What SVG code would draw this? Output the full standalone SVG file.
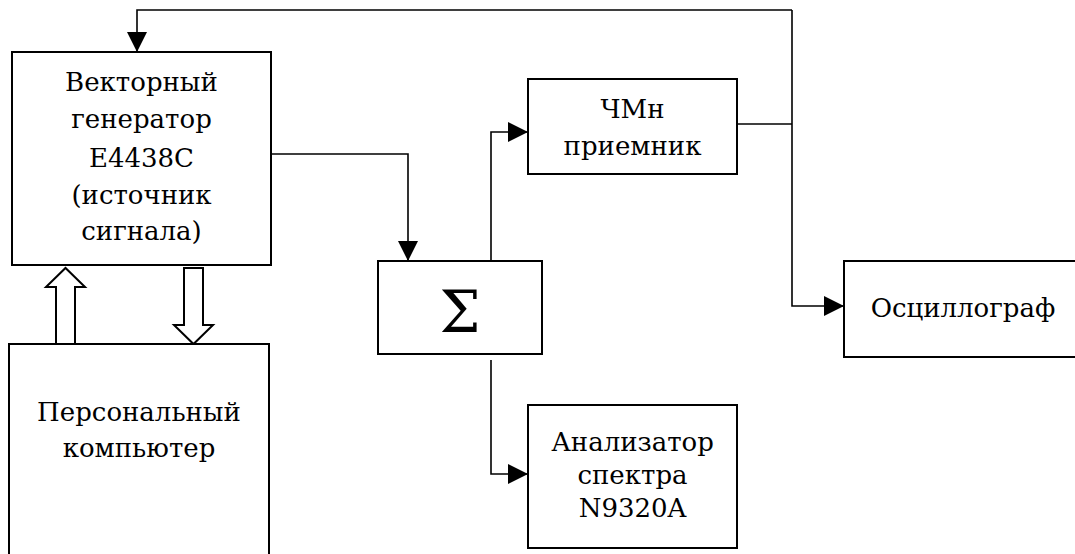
<svg xmlns="http://www.w3.org/2000/svg" width="1075" height="554" viewBox="0 0 1075 554">
<defs>
<marker id="arr" markerUnits="userSpaceOnUse" markerWidth="20" markerHeight="20" viewBox="0 0 18 18" refX="18" refY="9" orient="auto">
<path d="M0,0 L18,9 L0,18 Z" fill="#000"/>
</marker>
</defs>
<style>
.box{fill:#fff;stroke:#000;stroke-width:2}
.ln{fill:none;stroke:#000;stroke-width:1.6}
.hollow{fill:#fff;stroke:#000;stroke-width:2;stroke-linejoin:miter}
.t{font-family:"DejaVu Serif","Liberation Serif",serif;font-size:26px;fill:#000;text-anchor:middle}
</style>
<rect width="1075" height="554" fill="#fff"/>
<g id="connectors">
<path class="ln" d="M737,124 H792"/>
<path class="ln" d="M792,10 V306 H844" marker-end="url(#arr)"/>
<path class="ln" d="M792,10 H137 V52" marker-end="url(#arr)"/>
<path class="ln" d="M271,154 H408 V261" marker-end="url(#arr)"/>
<path class="ln" d="M491,261 V132 H528" marker-end="url(#arr)"/>
<path class="ln" d="M491,360 V474 H528" marker-end="url(#arr)"/>
<polygon class="hollow" points="56,344 56,287 46,287 65.5,268 85,287 75,287 75,344"/>
<polygon class="hollow" points="184,268 184,325 174,325 193.5,344 213,325 203,325 203,268"/>
</g>
<g id="generator">
<rect class="box" x="12" y="52" width="259" height="213"/>
<text class="t" x="141.5" y="91">Векторный</text>
<text class="t" x="141.5" y="128">генератор</text>
<text class="t" x="141.5" y="167">E4438C</text>
<text class="t" x="141.5" y="204">(источник</text>
<text class="t" x="141.5" y="240">сигнала)</text>
</g>
<g id="pc">
<rect class="box" x="9" y="344" width="260" height="230"/>
<text class="t" x="139" y="421">Персональный</text>
<text class="t" x="139" y="457">компьютер</text>
</g>
<g id="sum">
<rect class="box" x="378" y="261" width="164" height="93"/>
<text class="t" x="460" y="332" style="font-size:58px">Σ</text>
</g>
<g id="receiver">
<rect class="box" x="528" y="79" width="209" height="95"/>
<text class="t" x="632.5" y="118">ЧМн</text>
<text class="t" x="632.5" y="155">приемник</text>
</g>
<g id="analyzer">
<rect class="box" x="528" y="405" width="209" height="143"/>
<text class="t" x="632.5" y="451">Анализатор</text>
<text class="t" x="632.5" y="484">спектра</text>
<text class="t" x="632.5" y="517">N9320A</text>
</g>
<g id="oscilloscope">
<rect class="box" x="844" y="261" width="240" height="96"/>
<text class="t" x="963" y="317">Осциллограф</text>
</g>
</svg>
